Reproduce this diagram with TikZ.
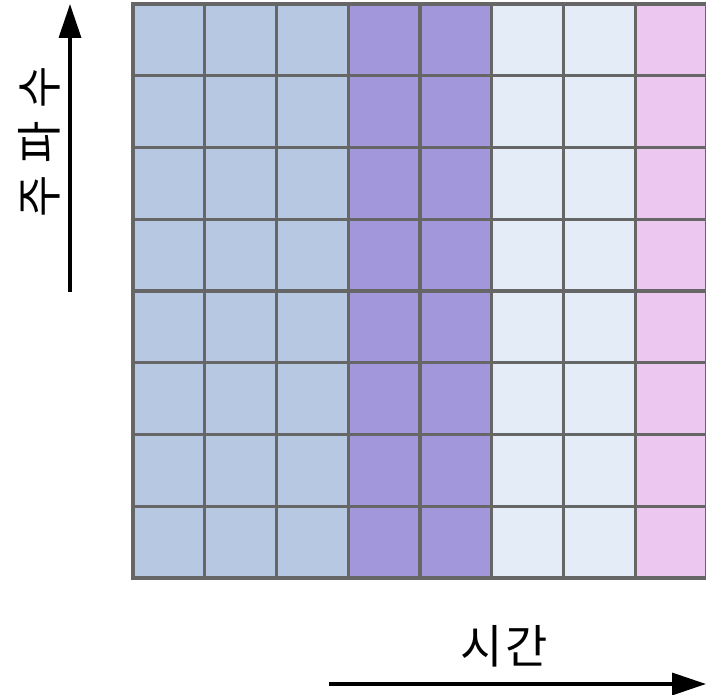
\documentclass[tikz,border=0pt]{standalone}
\usepackage{fontspec}
\newfontfamily\kr{Noto Sans CJK KR}
\usetikzlibrary{arrows.meta}
\definecolor{cblue}{HTML}{B7C9E2}
\definecolor{cpurple}{HTML}{A397DB}
\definecolor{cpale}{HTML}{E4ECF7}
\definecolor{cpink}{HTML}{ECC8F0}
\definecolor{gridgray}{HTML}{666666}
\begin{document}
\begin{tikzpicture}[x=1pt,y=1pt,
  gridline/.style={draw=gridgray, line width=3.4pt, line cap=rect},
  axis/.style={line width=3.5pt, -{Triangle[length=34pt,width=22pt]}},
  lab/.style={font=\kr\fontsize{46}{50}\selectfont, inner sep=0pt}]
\useasboundingbox (0,0) rectangle (706,694);
\begin{scope}
\clip (0,0) rectangle (706,694);
\foreach \c [count=\i from 0] in {cblue,cblue,cblue,cpurple,cpurple,cpale,cpale,cpink}
  \fill[\c] (133+\i*71.75,116) rectangle ++(71.75,574);
\foreach \i in {0,...,8} \draw[gridline] (133+\i*71.75,116) -- ++(0,574);
\foreach \j in {0,...,8} \draw[gridline] (133,116+\j*71.75) -- (712,116+\j*71.75);
\end{scope}
\coordinate (vs) at (70,402);
\coordinate (ve) at (70,690);
\coordinate (hs) at (329,10);
\coordinate (he) at (706,10);
\draw[axis] (vs) -- (ve);
\draw[axis] (hs) -- (he);
\node[lab, rotate=90] (freq) at (39,552) {주\kern12pt 파\kern12pt 수};
\node[lab] (time) at (504,48) {시\kern3pt 간};
\end{tikzpicture}
\end{document}
